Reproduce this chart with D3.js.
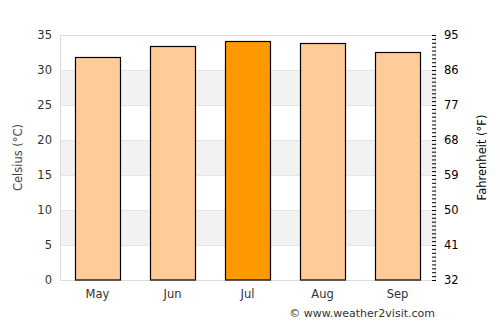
<!DOCTYPE html>
<html>
<head>
<meta charset="utf-8">
<script src="https://cdn.jsdelivr.net/npm/d3@7"></script>
<style>
    body { margin: 0; background: #fff; }
    text { font-family: "DejaVu Sans", sans-serif; }
</style>
</head>
<body>
<div id="chart"></div>
<script>
// Monthly average max temperature (°C)
const months = ["May", "Jun", "Jul", "Aug", "Sep"];
const temps = [31.8, 33.4, 34.2, 33.8, 32.6];
const highlight = "Jul";
const celsiusTicks = [0, 5, 10, 15, 20, 25, 30, 35];
const fahrenheitTicks = [32, 41, 50, 59, 68, 77, 86, 95];

const width = 500,
    height = 325,
    margin = { top: 35, right: 65, bottom: 45, left: 60 };

const svg = d3
    .select("#chart")
    .append("svg")
    .attr("width", width)
    .attr("height", height);

const x = d3
    .scaleBand()
    .domain(months)
    .range([margin.left, width - margin.right])
    .paddingInner(0.4)
    .paddingOuter(0.2);

const y = d3
    .scaleLinear()
    .domain([0, 35])
    .range([height - margin.bottom, margin.top]);

const yF = d3
    .scaleLinear()
    .domain([32, 95])
    .range([height - margin.bottom, margin.top]);

// Alternating grey bands
const bands = d3.pairs(celsiusTicks).filter((d, i) => i % 2 == 1);
svg.append("g")
    .selectAll("rect")
    .data(bands)
    .join("rect")
    .attr("x", margin.left)
    .attr("width", width - margin.left - margin.right)
    .attr("y", (d) => y(d[1]))
    .attr("height", (d) => y(d[0]) - y(d[1]))
    .attr("fill", "#f2f2f2");

// Gridlines
svg.append("g")
    .selectAll("line")
    .data(celsiusTicks)
    .join("line")
    .attr("x1", margin.left)
    .attr("x2", width - margin.right)
    .attr("y1", (d) => Math.round(y(d)) + 0.5)
    .attr("y2", (d) => Math.round(y(d)) + 0.5)
    .attr("stroke", "#e6e6e6");

// Frame
svg.append("rect")
    .attr("x", margin.left + 0.5)
    .attr("y", margin.top + 0.5)
    .attr("width", width - margin.left - margin.right)
    .attr("height", height - margin.top - margin.bottom)
    .attr("fill", "none")
    .attr("stroke", "#dddddd");

// Bars
svg.append("g")
    .selectAll("rect")
    .data(months)
    .join("rect")
    .attr("x", (d) => Math.round(x(d)) + 0.5)
    .attr("width", Math.round(x.bandwidth()))
    .attr("y", (d, i) => Math.round(y(temps[i])) + 0.5)
    .attr("height", (d, i) => y(0) - Math.round(y(temps[i])) - 0.5)
    .attr("fill", (d) => (d == highlight ? "#ff9900" : "#ffcc99"))
    .attr("stroke", "#000")
    .attr("stroke-width", 1.2);

// Left axis
const left = svg.append("g")
    .attr("transform", `translate(${margin.left},0)`)
    .call(d3.axisLeft(y).tickValues(celsiusTicks).tickSize(0).tickPadding(8));
left.select(".domain").remove();
left.selectAll("text").attr("font-size", 11.5).attr("fill", "#333");

// Right axis, minor ticks every 1°F
const minor = svg.append("g")
    .attr("transform", `translate(${width - margin.right},0)`)
    .call(d3.axisRight(yF).tickValues(d3.range(32, 96, 1)).tickSize(0).tickFormat(""));
minor.select(".domain").remove();
minor.selectAll(".tick line")
    .attr("x1", -3)
    .attr("x2", 1)
    .attr("stroke", "#000");

const right = svg.append("g")
    .attr("transform", `translate(${width - margin.right},0)`)
    .call(d3.axisRight(yF).tickValues(fahrenheitTicks).tickSize(0).tickPadding(9));
right.select(".domain").remove();
right.selectAll("text").attr("font-size", 11.5).attr("fill", "#000");

// Bottom axis
const bottom = svg.append("g")
    .attr("transform", `translate(0,${height - margin.bottom})`)
    .call(d3.axisBottom(x).tickSize(0).tickPadding(10));
bottom.select(".domain").remove();
bottom.selectAll("text").attr("font-size", 11.5).attr("fill", "#333");

// Axis titles
svg.append("text")
    .attr("transform", `translate(22,${(margin.top + height - margin.bottom) / 2}) rotate(-90)`)
    .attr("text-anchor", "middle")
    .attr("font-size", 11.5)
    .attr("fill", "#444")
    .text("Celsius (°C)");

svg.append("text")
    .attr("transform", `translate(486,${(margin.top + height - margin.bottom) / 2}) rotate(-90)`)
    .attr("text-anchor", "middle")
    .attr("font-size", 11.5)
    .attr("fill", "#000")
    .text("Fahrenheit (°F)");

svg.append("text")
    .attr("x", 435)
    .attr("y", 317)
    .attr("text-anchor", "end")
    .attr("font-size", 11)
    .attr("fill", "#333")
    .text("© www.weather2visit.com");
</script>
</body>
</html>
